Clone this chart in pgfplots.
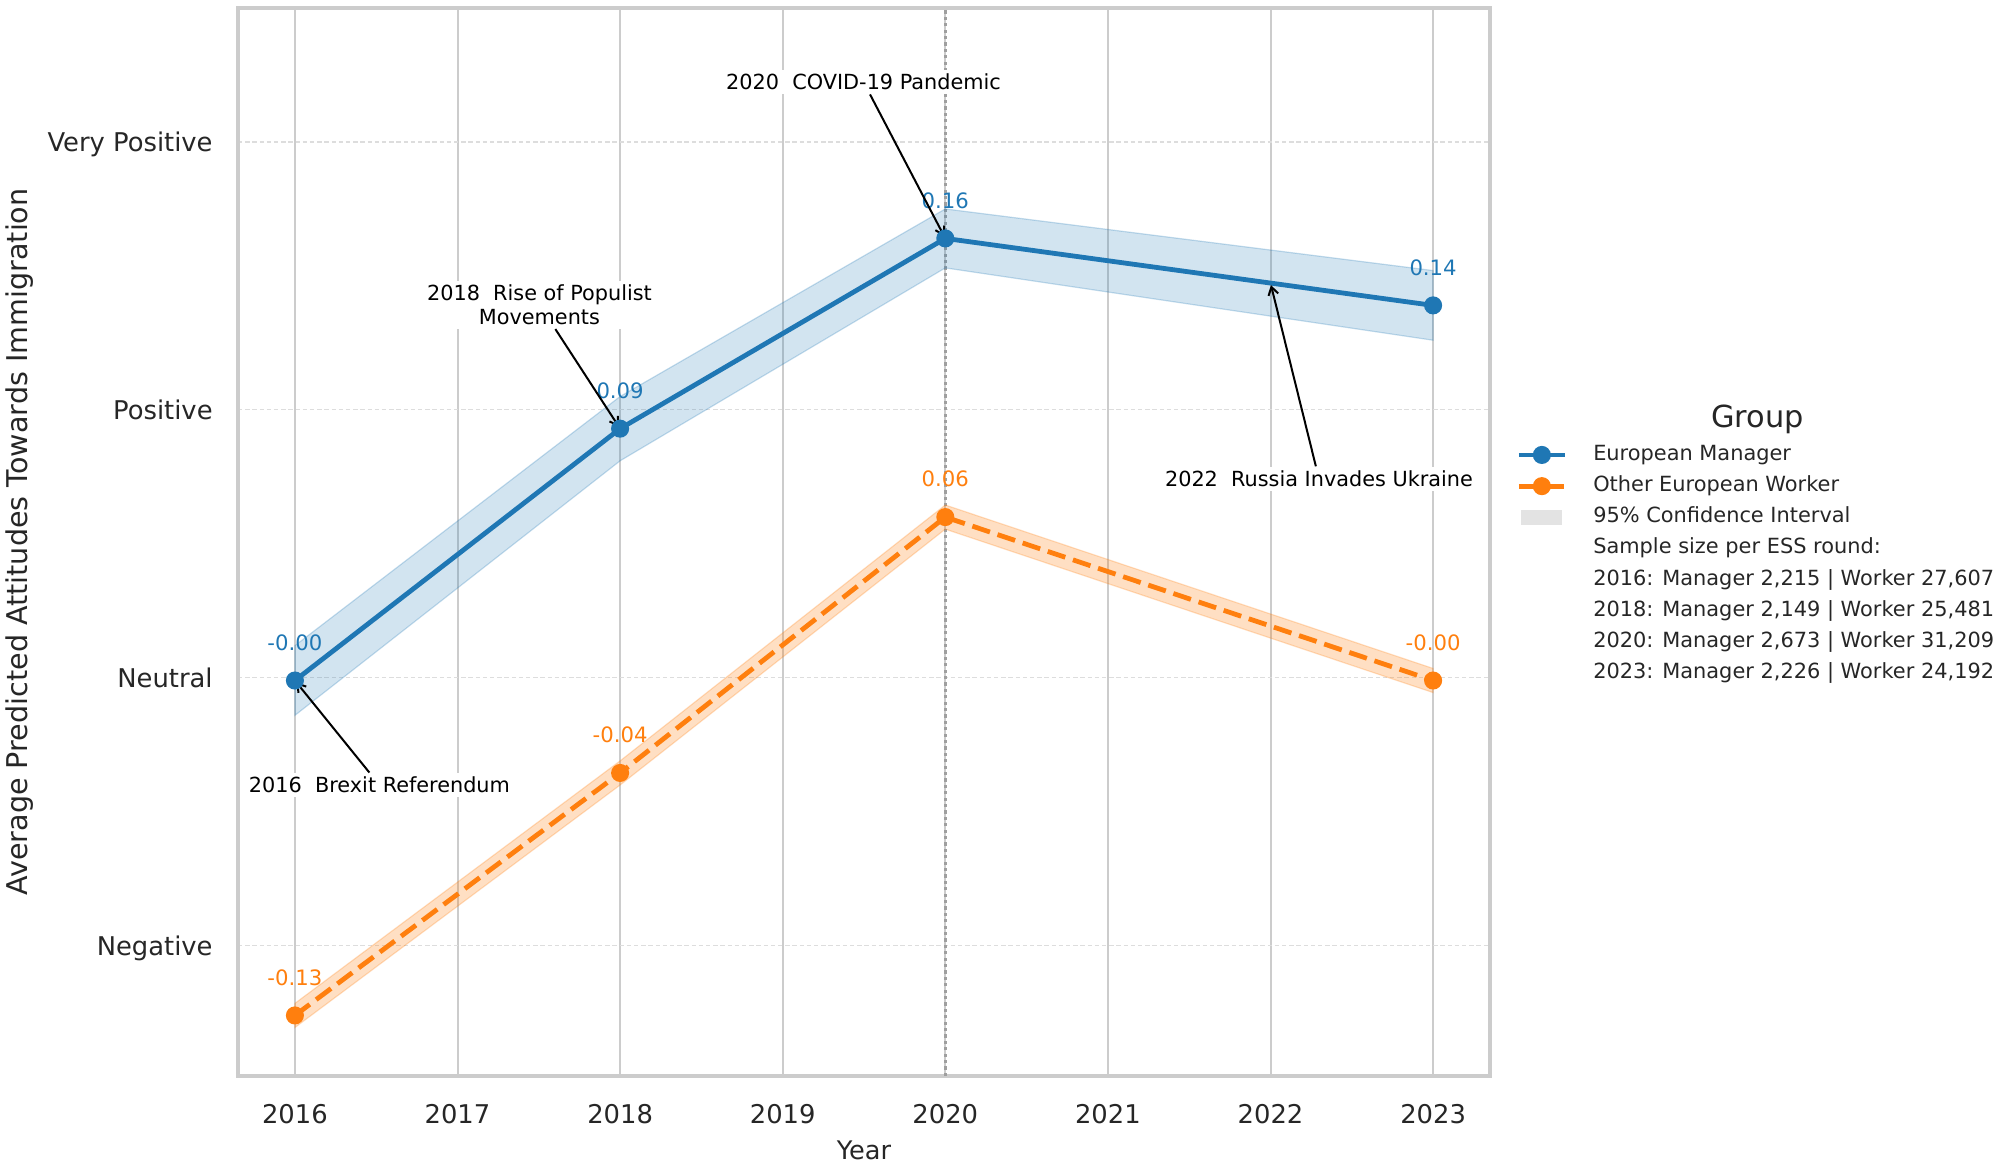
\documentclass[border=0pt]{standalone}
\usepackage{fontspec}
\setmainfont{DejaVu Sans}
\usepackage{pgfplots}
\pgfplotsset{compat=1.18}
\usetikzlibrary{arrows.meta}
\definecolor{cblue}{HTML}{1F77B4}
\definecolor{corange}{HTML}{FF7F0E}
\definecolor{gridc}{HTML}{CCCCCC}
\definecolor{hgrid}{HTML}{DDDDDD}
\definecolor{txt}{HTML}{262626}
\begin{document}
\begin{tikzpicture}
\path[use as bounding box] (-119pt,-45.5pt) rectangle (881pt,538pt);
\begin{axis}[
  at={(0pt,0pt)}, anchor=south west,
  scale only axis, width=626pt, height=534pt,
  xmin=2015.65, xmax=2023.35, ymin=-0.1486, ymax=0.25,
  clip=false,
  xtick={2016,2017,2018,2019,2020,2021,2022,2023},
  xticklabels={2016,2017,2018,2019,2020,2021,2022,2023},
  ytick={-0.1,0,0.1,0.2},
  yticklabels={Negative,Neutral,Positive,Very Positive},
  major tick length=0pt,
  xmajorgrids, ymajorgrids,
  x grid style={gridc, line width=1pt},
  y grid style={hgrid, line width=0.6pt, dash pattern=on 2.2pt off 1.4pt},
  axis line style={gridc, line width=2pt},
  tick label style={font=\fontsize{12.9}{15}\selectfont, text=txt},
  xticklabel style={anchor=center, yshift=-19pt},
  yticklabel style={anchor=east, inner sep=0pt, text depth=0pt, xshift=-12.5pt},
  xlabel={Year},
  ylabel={Average Predicted Attitudes Towards Immigration},
  xlabel style={font=\fontsize{12.8}{15}\selectfont, text=txt, at={(axis description cs:0.5,-0.0698)}, anchor=center},
  ylabel style={font=\fontsize{14.3}{17}\selectfont, text=txt, at={(axis description cs:-0.1744,0.5)}, anchor=center},
  legend image code/.code={\draw[mark repeat=2, mark phase=2, #1] plot coordinates {(0pt,0pt) (11.5pt,0pt) (23pt,0pt)};},
  legend cell align=left,
  legend style={at={(axis description cs:1.0208,0.5918)}, anchor=north west,
    draw=none, fill=none, inner sep=0pt, column sep=13pt, row sep=5pt,
    font=\fontsize{10.45}{12.6}\selectfont, text=txt,
    nodes={inner sep=0pt, text height=8pt, text depth=2.6pt}},
]
% 2020 reference line
\addplot[forget plot, gray!75, line width=1.4pt, dash pattern=on 1.6pt off 1.6pt] coordinates {(2020,-0.1486) (2020,0.25)};
% confidence bands
\addplot[forget plot, fill=cblue, fill opacity=0.2, draw=cblue, draw opacity=0.25, line width=0.6pt]
  coordinates {(2016,0.012) (2018,0.105) (2020,0.175) (2023,0.152) (2023,0.126) (2020,0.153) (2018,0.081) (2016,-0.014)} -- cycle;
\addplot[forget plot, fill=corange, fill opacity=0.25, draw=corange, draw opacity=0.25, line width=0.6pt]
  coordinates {(2016,-0.1215) (2018,-0.031) (2020,0.0645) (2023,0.0035) (2023,-0.0055) (2020,0.0555) (2018,-0.040) (2016,-0.1305)} -- cycle;
% lines
\addplot[cblue, line width=2.4pt, mark=*, mark size=3.3pt, mark options={solid, fill=cblue, draw=cblue}]
  coordinates {(2016,-0.001) (2018,0.093) (2020,0.164) (2023,0.139)};
\addlegendentry{European Manager}
\addplot[corange, line width=2.4pt, dash pattern=on 9.25pt off 4pt, mark=*, mark size=3.3pt, mark options={solid, fill=corange, draw=corange}]
  coordinates {(2016,-0.126) (2018,-0.0355) (2020,0.060) (2023,-0.001)};
\addlegendentry{Other European Worker}
\addlegendimage{legend image code/.code={\fill[gray!22] (1.5pt,-3.3pt) rectangle (21.5pt,3.3pt);}}
\addlegendentry{95\% Confidence Interval}
\addlegendimage{empty legend}
\addlegendentry{Sample size per ESS round:}
\addlegendimage{empty legend}
\addlegendentry{2016: Manager 2,215 | Worker 27,607}
\addlegendimage{empty legend}
\addlegendentry{2018: Manager 2,149 | Worker 25,481}
\addlegendimage{empty legend}
\addlegendentry{2020: Manager 2,673 | Worker 31,209}
\addlegendimage{empty legend}
\addlegendentry{2023: Manager 2,226 | Worker 24,192}
% value labels
\begin{scope}[every node/.style={font=\fontsize{10.6}{12.7}\selectfont, inner sep=0pt}]
\node[text=cblue, yshift=19pt] at (axis cs:2016,-0.001) {-0.00};
\node[text=cblue, yshift=19pt] at (axis cs:2018,0.093) {0.09};
\node[text=cblue, yshift=19pt] at (axis cs:2020,0.164) {0.16};
\node[text=cblue, yshift=19pt] at (axis cs:2023,0.139) {0.14};
\node[text=corange, yshift=19pt] at (axis cs:2016,-0.126) {-0.13};
\node[text=corange, yshift=19pt] at (axis cs:2018,-0.0355) {-0.04};
\node[text=corange, yshift=19pt] at (axis cs:2020,0.060) {0.06};
\node[text=corange, yshift=19pt] at (axis cs:2023,-0.001) {-0.00};
\end{scope}
% annotations
\begin{scope}[every node/.style={font=\fontsize{10.4}{12}\selectfont, fill=white, inner sep=2pt, align=center},
  arr/.style={black, line width=1pt, -{Straight Barb[length=4pt,width=5pt]}, shorten >=1pt}]
\node (a16) at (axis cs:2016.52,-0.040) {2016\ \ Brexit Referendum};
\draw[arr] (a16) -- (axis cs:2016,-0.001);
\node (a18) at (axis cs:2017.504,0.1393) {2018\ \ Rise of Populist\\Movements};
\draw[arr] (a18) -- (axis cs:2018,0.093);
\node (a20) at (axis cs:2019.497,0.2224) {2020\ \ COVID-19 Pandemic};
\draw[arr] (a20) -- (axis cs:2020,0.164);
\node (a22) at (axis cs:2022.298,0.0743) {2022\ \ Russia Invades Ukraine};
\draw[arr] (a22) -- (axis cs:2022,0.1473);
\end{scope}
\node[font=\fontsize{15.2}{18}\selectfont, text=txt, inner sep=0pt] at (axis description cs:1.2137,0.6145) {Group};
\end{axis}
\end{tikzpicture}
\end{document}
